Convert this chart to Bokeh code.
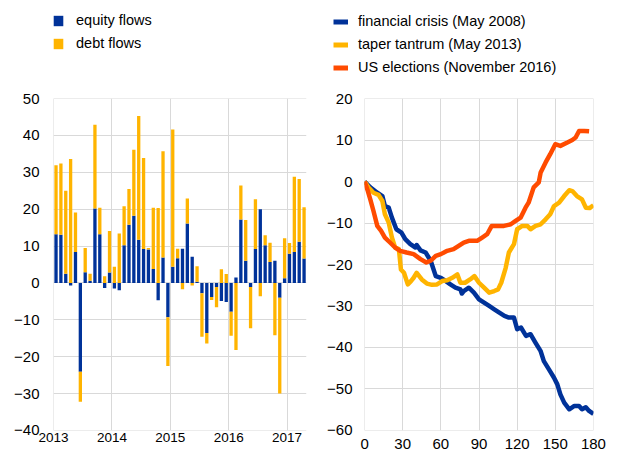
import numpy as np
from bokeh.plotting import figure
from bokeh.layouts import row, column
from bokeh.models import ColumnDataSource, Legend, LegendItem, FixedTicker, Range1d
from bokeh.embed import file_html
from bokeh.resources import INLINE

# ---------------- data ----------------
year_labels = ["2013", "2014", "2015", "2016", "2017"]
equity_flows = [13.2, 13.1, 2.5, -0.7, 8.4, -24.1, 2.9, 0.6, 20.2, 13.2, -1.4, 2.8,
                -1.5, -2.0, 10.2, 15.8, 18.2, 11.7, 9.2, 9.1, 3.8, -4.7, 6.9, -9.3,
                4.4, 6.7, 9.3, 16.1, 7.1, 0.3, -2.8, -13.6, -3.8, -1.1, -4.9, -5.2,
                -7.8, 1.5, 17.2, 6.0, -1.1, 9.2, 20.0, 10.2, 5.7, 6.0, -4.0, 1.3,
                7.9, 8.4, 11.2, 6.6]
debt_flows = [18.7, 19.3, 22.5, 33.6, 10.7, -8.1, 6.6, 1.9, 22.7, 7.2, 1.8, 11.3,
              4.4, 13.4, 10.6, 9.7, 17.9, 33.6, 24.7, 0.4, 16.6, 20.3, 28.8, -13.2,
              37.2, 2.6, -1.7, 6.8, -0.7, 4.2, -11.8, -2.8, -0.8, -5.5, 3.7, 2.4,
              -6.5, -18.2, 9.2, 11.1, -11.2, 13.5, -3.6, 2.7, 5.2, -14.2, -26.0, 10.8,
              2.9, 20.4, 17.0, 13.9]

fc_days = [0, 4.5, 10, 14, 16, 19, 21.5, 25, 29, 32, 36, 40, 41, 44, 48, 52, 56, 60, 64,
           67.5, 71.5, 75.4, 76.5, 78, 82, 86, 90, 94, 98, 102, 106, 110, 113.5, 117.5, 120,
           123, 127, 130.5, 134.5, 138.5, 141, 145, 149, 151.6, 154, 157, 161, 165, 168.7,
           171, 174, 176.6, 180]
fc_vals = [0, -1.4, -2.7, -3.5, -5.9, -6.3, -8.7, -11.5, -12.3, -13.9, -15.1, -15.9, -15.3,
           -16.6, -17.1, -19.1, -22.8, -23.2, -24.0, -24.8, -25.6, -26.0, -27.0, -26.4, -25.6,
           -26.8, -28.4, -29.2, -30.0, -30.8, -31.6, -32.4, -32.8, -32.8, -35.6, -35.2, -37.2,
           -36.8, -38.9, -40.9, -43.3, -45.3, -47.3, -48.9, -51.3, -53.3, -54.9, -54.1, -54.1,
           -54.9, -54.4, -55.3, -56.0]

tt_days = [0, 3, 7, 11, 14, 16, 19, 21.5, 24, 27, 28.6, 31, 34, 36.5, 38.6, 41, 45, 49, 53,
           57, 61, 65, 69, 73, 75.4, 79, 83, 86.4, 90, 94, 98, 102, 105, 107.5, 111, 113.5,
           117.5, 120, 124, 128, 130.5, 134.5, 138.5, 142.4, 146, 149, 153, 157, 161, 163.4,
           167, 171, 174, 177, 180]
tt_vals = [0, -1.4, -2.7, -3.2, -4.7, -7.9, -9.9, -13.5, -15.9, -16.3, -21.2, -22.0, -24.8,
           -24.0, -23.2, -22.0, -23.6, -24.6, -24.9, -24.8, -24.0, -23.8, -23.2, -22.4, -24.4,
           -24.4, -23.6, -22.8, -24.4, -25.6, -26.8, -26.4, -26.0, -24.4, -20.8, -17.1, -15.1,
           -11.5, -10.7, -10.7, -11.5, -10.7, -10.3, -9.1, -7.9, -5.9, -5.1, -3.5, -2.1, -2.3,
           -3.5, -4.3, -6.3, -6.4, -5.7]

us_days = [0, 2.6, 4.5, 7, 10, 13, 16, 20, 24, 28, 33, 38.6, 44, 48.6, 52, 56, 60, 65, 70,
           74, 78, 82, 88.5, 92.5, 96.4, 100, 104, 109.6, 115, 118.8, 122.7, 126.6, 129, 133,
           137, 138.5, 142.4, 146, 150, 154, 159.5, 163.4, 166, 168.7, 172.6, 176.6]
us_vals = [0, -2.3, -4.3, -7.1, -10.7, -11.9, -13.5, -14.7, -15.9, -16.7, -17.1, -17.5, -18.7,
           -19.5, -19.1, -17.9, -17.5, -16.7, -16.3, -15.5, -14.7, -14.3, -14.3, -13.5, -12.7,
           -10.7, -10.7, -10.7, -10.3, -9.5, -8.7, -6.3, -5.1, -1.4, -0.2, 2.2, 4.6, 6.6, 9.0,
           8.6, 9.4, 10.0, 10.6, 12.2, 12.2, 12.1]

BLUE = "#003299"
YELLOW = "#FFB400"
ORANGE = "#FF4B00"
GRID = "#d9d9d9"
FONT = "Liberation Sans"
TXT = "#000000"
LW = 4.5
EPS = 0.02
LEG_H = 86
W1, W2 = 323, 296

# ---------------- left: stacked bars ----------------
eq = np.array(equity_flows)
de = np.array(debt_flows)
xm = np.arange(len(eq)) + 0.5
same = (np.sign(de) == np.sign(eq)) | (eq == 0)
d_bot = np.where(same, eq, 0.0)
d_top = d_bot + de

src_e = ColumnDataSource(dict(x=xm, bottom=np.zeros_like(eq), top=eq))
src_d = ColumnDataSource(dict(x=xm, bottom=d_bot, top=d_top))

p1 = figure(width=W1, height=456 - LEG_H, output_backend="svg", toolbar_location=None,
            x_range=Range1d(-EPS, len(eq)), y_range=Range1d(-40 - EPS, 50 + EPS),
            min_border_left=53, min_border_right=17, min_border_top=97 - LEG_H,
            min_border_bottom=21)
p1.vbar(x="x", bottom="bottom", top="top", width=0.68, source=src_e,
        fill_color=BLUE, line_color=None)
p1.vbar(x="x", bottom="bottom", top="top", width=0.68, source=src_d,
        fill_color=YELLOW, line_color=None)

p1.xaxis.ticker = FixedTicker(ticks=[0, 12, 24, 36, 48])
p1.xaxis.major_label_overrides = {12 * i: lab for i, lab in enumerate(year_labels)}
p1.yaxis.ticker = FixedTicker(ticks=list(range(-40, 51, 10)))
p1.xaxis.major_label_standoff = 2
p1.yaxis.major_label_standoff = 14
p1.xaxis.major_label_text_font_size = "13.5px"
p1.yaxis.major_label_text_font_size = "15px"

# ---------------- right: lines ----------------
p2 = figure(width=W2, height=456 - LEG_H, output_backend="svg", toolbar_location=None,
            x_range=Range1d(-0.05, 180.05), y_range=Range1d(-60 - EPS, 20 + EPS),
            min_border_left=41, min_border_right=26, min_border_top=98 - LEG_H,
            min_border_bottom=26)
p2.line(fc_days, fc_vals, line_color=BLUE, line_width=LW, line_join="round")
p2.line(tt_days, tt_vals, line_color=YELLOW, line_width=LW, line_join="round")
p2.line(us_days, us_vals, line_color=ORANGE, line_width=LW, line_join="round")

p2.xaxis.ticker = FixedTicker(ticks=list(range(0, 181, 30)))
p2.yaxis.ticker = FixedTicker(ticks=list(range(-60, 21, 10)))
p2.xaxis.major_label_standoff = 8
p2.yaxis.major_label_standoff = 12
p2.xaxis.major_label_text_font_size = "15px"
p2.yaxis.major_label_text_font_size = "15px"

for p in (p1, p2):
    p.outline_line_color = None
    p.background_fill_color = "white"
    p.border_fill_color = "white"
    for ax in (p.xaxis, p.yaxis):
        ax.axis_line_color = None
        ax.major_tick_line_color = None
        ax.minor_tick_line_color = None
        ax.major_tick_out = 0
        ax.major_tick_in = 0
        ax.minor_tick_out = 0
        ax.minor_tick_in = 0
        ax.major_label_text_font = FONT
        ax.major_label_text_color = TXT
    p.xgrid.grid_line_color = GRID
    p.ygrid.grid_line_color = GRID
    p.xgrid.ticker = p.xaxis.ticker
    p.ygrid.ticker = p.yaxis.ticker

# ---------------- legend strips (pixel coordinates) ----------------
def legend_fig(w):
    f = figure(width=w, height=LEG_H, output_backend="svg", toolbar_location=None,
               x_range=Range1d(0, w), y_range=Range1d(0, LEG_H),
               x_axis_type=None, y_axis_type=None,
               min_border_left=0, min_border_right=0, min_border_top=0, min_border_bottom=0)
    f.outline_line_color = None
    f.xgrid.visible = False
    f.ygrid.visible = False
    return f

# legend keys: one point each, placed outside the visible strip
lf1 = legend_fig(W1)
k_e = lf1.vbar(x=[-500], top=[-500], bottom=[-501], width=1, fill_color=BLUE, line_color=None)
k_d = lf1.vbar(x=[-500], top=[-500], bottom=[-501], width=1, fill_color=YELLOW, line_color=None)
leg1 = Legend(items=[LegendItem(label="equity flows", renderers=[k_e]),
                     LegendItem(label="debt flows", renderers=[k_d])],
              location=(52, 33))
lf1.add_layout(leg1, "center")

lf2 = legend_fig(W2)
k_fc = lf2.line(x=[-500, -499], y=[-500, -500], line_color=BLUE, line_width=5)
k_tt = lf2.line(x=[-500, -499], y=[-500, -500], line_color=YELLOW, line_width=5)
k_us = lf2.line(x=[-500, -499], y=[-500, -500], line_color=ORANGE, line_width=5)
leg2 = Legend(items=[LegendItem(label="financial crisis (May 2008)", renderers=[k_fc]),
                     LegendItem(label="taper tantrum (May 2013)", renderers=[k_tt]),
                     LegendItem(label="US elections (November 2016)", renderers=[k_us])],
              location=(333 - W1, 9))
lf2.add_layout(leg2, "center")

for leg, sw, gw in ((leg1, 12, 12), (leg2, 10, 15)):
    leg.border_line_color = None
    leg.background_fill_alpha = 0
    leg.padding = 0
    leg.margin = 0
    leg.spacing = 3
    leg.label_height = 20
    leg.glyph_height = 13
    leg.glyph_width = gw
    leg.label_standoff = sw
    leg.label_text_font = FONT
    leg.label_text_font_size = "14.5px"
    leg.label_text_color = TXT
    leg.label_text_baseline = "middle"

layout = column(row(lf1, lf2), row(p1, p2))
open("out.html", "w").write(file_html(layout, INLINE))
